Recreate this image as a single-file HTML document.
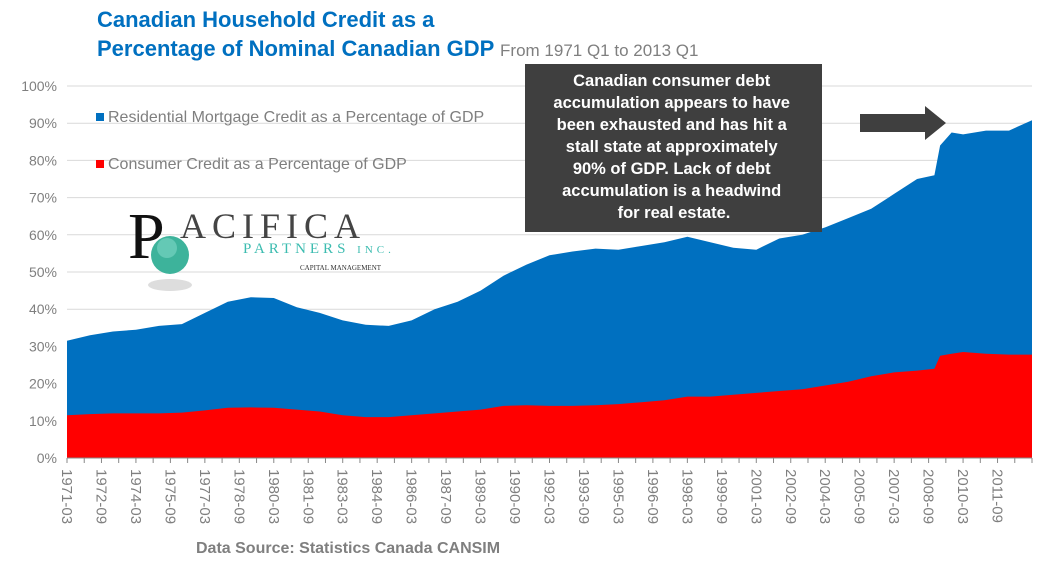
<!DOCTYPE html>
<html><head><meta charset="utf-8"><style>
body{margin:0;width:1047px;height:579px;background:#fff;overflow:hidden;font-family:"Liberation Sans",Arial,sans-serif}
svg{position:absolute;left:0;top:0}
</style></head><body>
<svg width="1047" height="579">
<g id="grid"></g>
<g id="areas"></g>
<g id="axes"></g>
<text x="97" y="27" font-size="22" font-weight="bold" fill="#0070c0">Canadian Household Credit as a</text>
<text x="97" y="56" font-size="22" font-weight="bold" fill="#0070c0">Percentage of Nominal Canadian GDP <tspan font-size="17" font-weight="normal" fill="#7f7f7f">From 1971 Q1 to 2013 Q1</tspan></text>
<g>
<rect x="96" y="113" width="8" height="8" fill="#0070c0"/>
<text x="108" y="122" font-size="16" fill="#7f7f7f">Residential Mortgage Credit as a Percentage of GDP</text>
<rect x="96" y="160" width="8" height="8" fill="#ff0000"/>
<text x="108" y="169" font-size="16" fill="#7f7f7f">Consumer Credit as a Percentage of GDP</text>
</g>
<g>
<text x="128" y="258" font-family="Liberation Serif,serif" font-size="66" fill="#111">P</text>
<text x="180" y="238" font-family="Liberation Serif,serif" font-size="36" fill="#444" letter-spacing="6">ACIFICA</text>
<text x="243" y="253" font-family="Liberation Serif,serif" font-size="15" fill="#3cbcb0" letter-spacing="4">PARTNERS <tspan font-size="11">INC.</tspan></text>
<text x="300" y="270" font-family="Liberation Serif,serif" font-size="7" fill="#333">CAPITAL MANAGEMENT</text>
<ellipse cx="170" cy="285" rx="22" ry="6" fill="#ddd"/>
<circle cx="170" cy="255" r="19" fill="#3db39b"/>
<circle cx="167" cy="248" r="10" fill="#7fd7c7" opacity="0.6"/>
</g>
<rect x="525" y="64" width="297" height="168" fill="#3f3f3f"/>
<text font-size="16.5" font-weight="bold" fill="#fff" text-anchor="middle">
<tspan x="674" y="86">Canadian consumer debt</tspan>
<tspan x="674" y="108">accumulation appears to have</tspan>
<tspan x="674" y="130">been exhausted and has hit a</tspan>
<tspan x="674" y="152">stall state at approximately</tspan>
<tspan x="674" y="174">90% of GDP.  Lack of debt</tspan>
<tspan x="674" y="196">accumulation is a headwind</tspan>
<tspan x="674" y="218">for real estate.</tspan></text>
<polygon points="860,114 925,114 925,106 946,123 925,140 925,132 860,132" fill="#3f3f3f"/>
<text x="196" y="553" font-size="16" font-weight="bold" fill="#7f7f7f">Data Source: Statistics Canada CANSIM</text>
</svg>
<script>
const years=[1971,1972,1973,1974,1975,1976,1977,1978,1979,1980,1981,1982,1983,1984,1985,1986,1987,1988,1989,1990,1991,1992,1993,1994,1995,1996,1997,1998,1999,2000,2001,2002,2003,2004,2005,2006,2007,2008,2008.75,2009,2009.5,2010,2011,2012,2013];
const totalPct=[31.5,33,34,34.5,35.5,36,39,42,43.2,43,40.5,39,37,35.8,35.5,37,40,42,45,49,52,54.5,55.5,56.3,56,57,58,59.5,58,56.5,56,59,60,62,64.5,67,71,75,76,84,87.5,87,88,88,90.8];
const consumerPct=[11.5,11.8,12,12,12,12.2,12.8,13.5,13.6,13.5,13,12.5,11.5,11,11,11.5,12,12.5,13,14,14.2,14,14,14.2,14.5,15,15.5,16.5,16.5,17,17.5,18,18.5,19.5,20.5,22,23,23.5,24,27.5,28,28.5,28,27.8,27.8];
const yTicks=[0,10,20,30,40,50,60,70,80,90,100];
const NS='http://www.w3.org/2000/svg';
const x0=67,x1=1032,yb=458,yt=86;
const X=y=>x0+(y-1971)*(x1-x0)/(2013-1971);
const Y=v=>yb-v*(yb-yt)/100;
function mk(t,a,p){const e=document.createElementNS(NS,t);for(const k in a)e.setAttribute(k,a[k]);p.appendChild(e);return e;}
const grid=document.getElementById('grid'),areas=document.getElementById('areas'),axes=document.getElementById('axes');
yTicks.forEach(t=>{
 const l=mk('line',{x1:x0,x2:x1,y1:Y(t),y2:Y(t),stroke:'#d9d9d9'},grid);
 
 
 const tx=mk('text',{x:x0-10,y:Y(t)+5,'font-size':14,fill:'#7f7f7f','text-anchor':'end'},axes);
 tx.textContent=t+'%';
 
 
});
function area(vals,color,name){
 let d='M'+X(years[0])+','+yb;
 years.forEach((y,i)=>{d+=' L'+X(y).toFixed(1)+','+Y(vals[i]).toFixed(1);});
 d+=' L'+X(years[years.length-1])+','+yb+' Z';
 const p=mk('path',{d:d,fill:color},areas);
 
 
}
area(totalPct,'#0070c0','mortgage-area');
area(consumerPct,'#ff0000','consumer-area');
const ax=mk('line',{x1:x0,x2:x1,y1:yb,y2:yb,stroke:'#888'},axes);


const pq=(x1-x0)/168;
for(let q=0;q<=168;q+=3){mk('line',{x1:x0+q*pq,x2:x0+q*pq,y1:yb,y2:yb+5,stroke:'#888'},axes);}
for(let q=0;q<=162;q+=6){
 const yr=1971+Math.floor(q/4), m=(q%4)*3+3;
 const lbl=yr+'-'+(m<10?'0':'')+m;
 const xx=x0+q*pq;
 const t=mk('text',{x:0,y:0,'font-size':15,fill:'#7f7f7f',transform:'translate('+(xx-5)+','+(yb+11)+') rotate(90)'},axes);
 t.textContent=lbl;
 
 
}
</script>
</body></html>
